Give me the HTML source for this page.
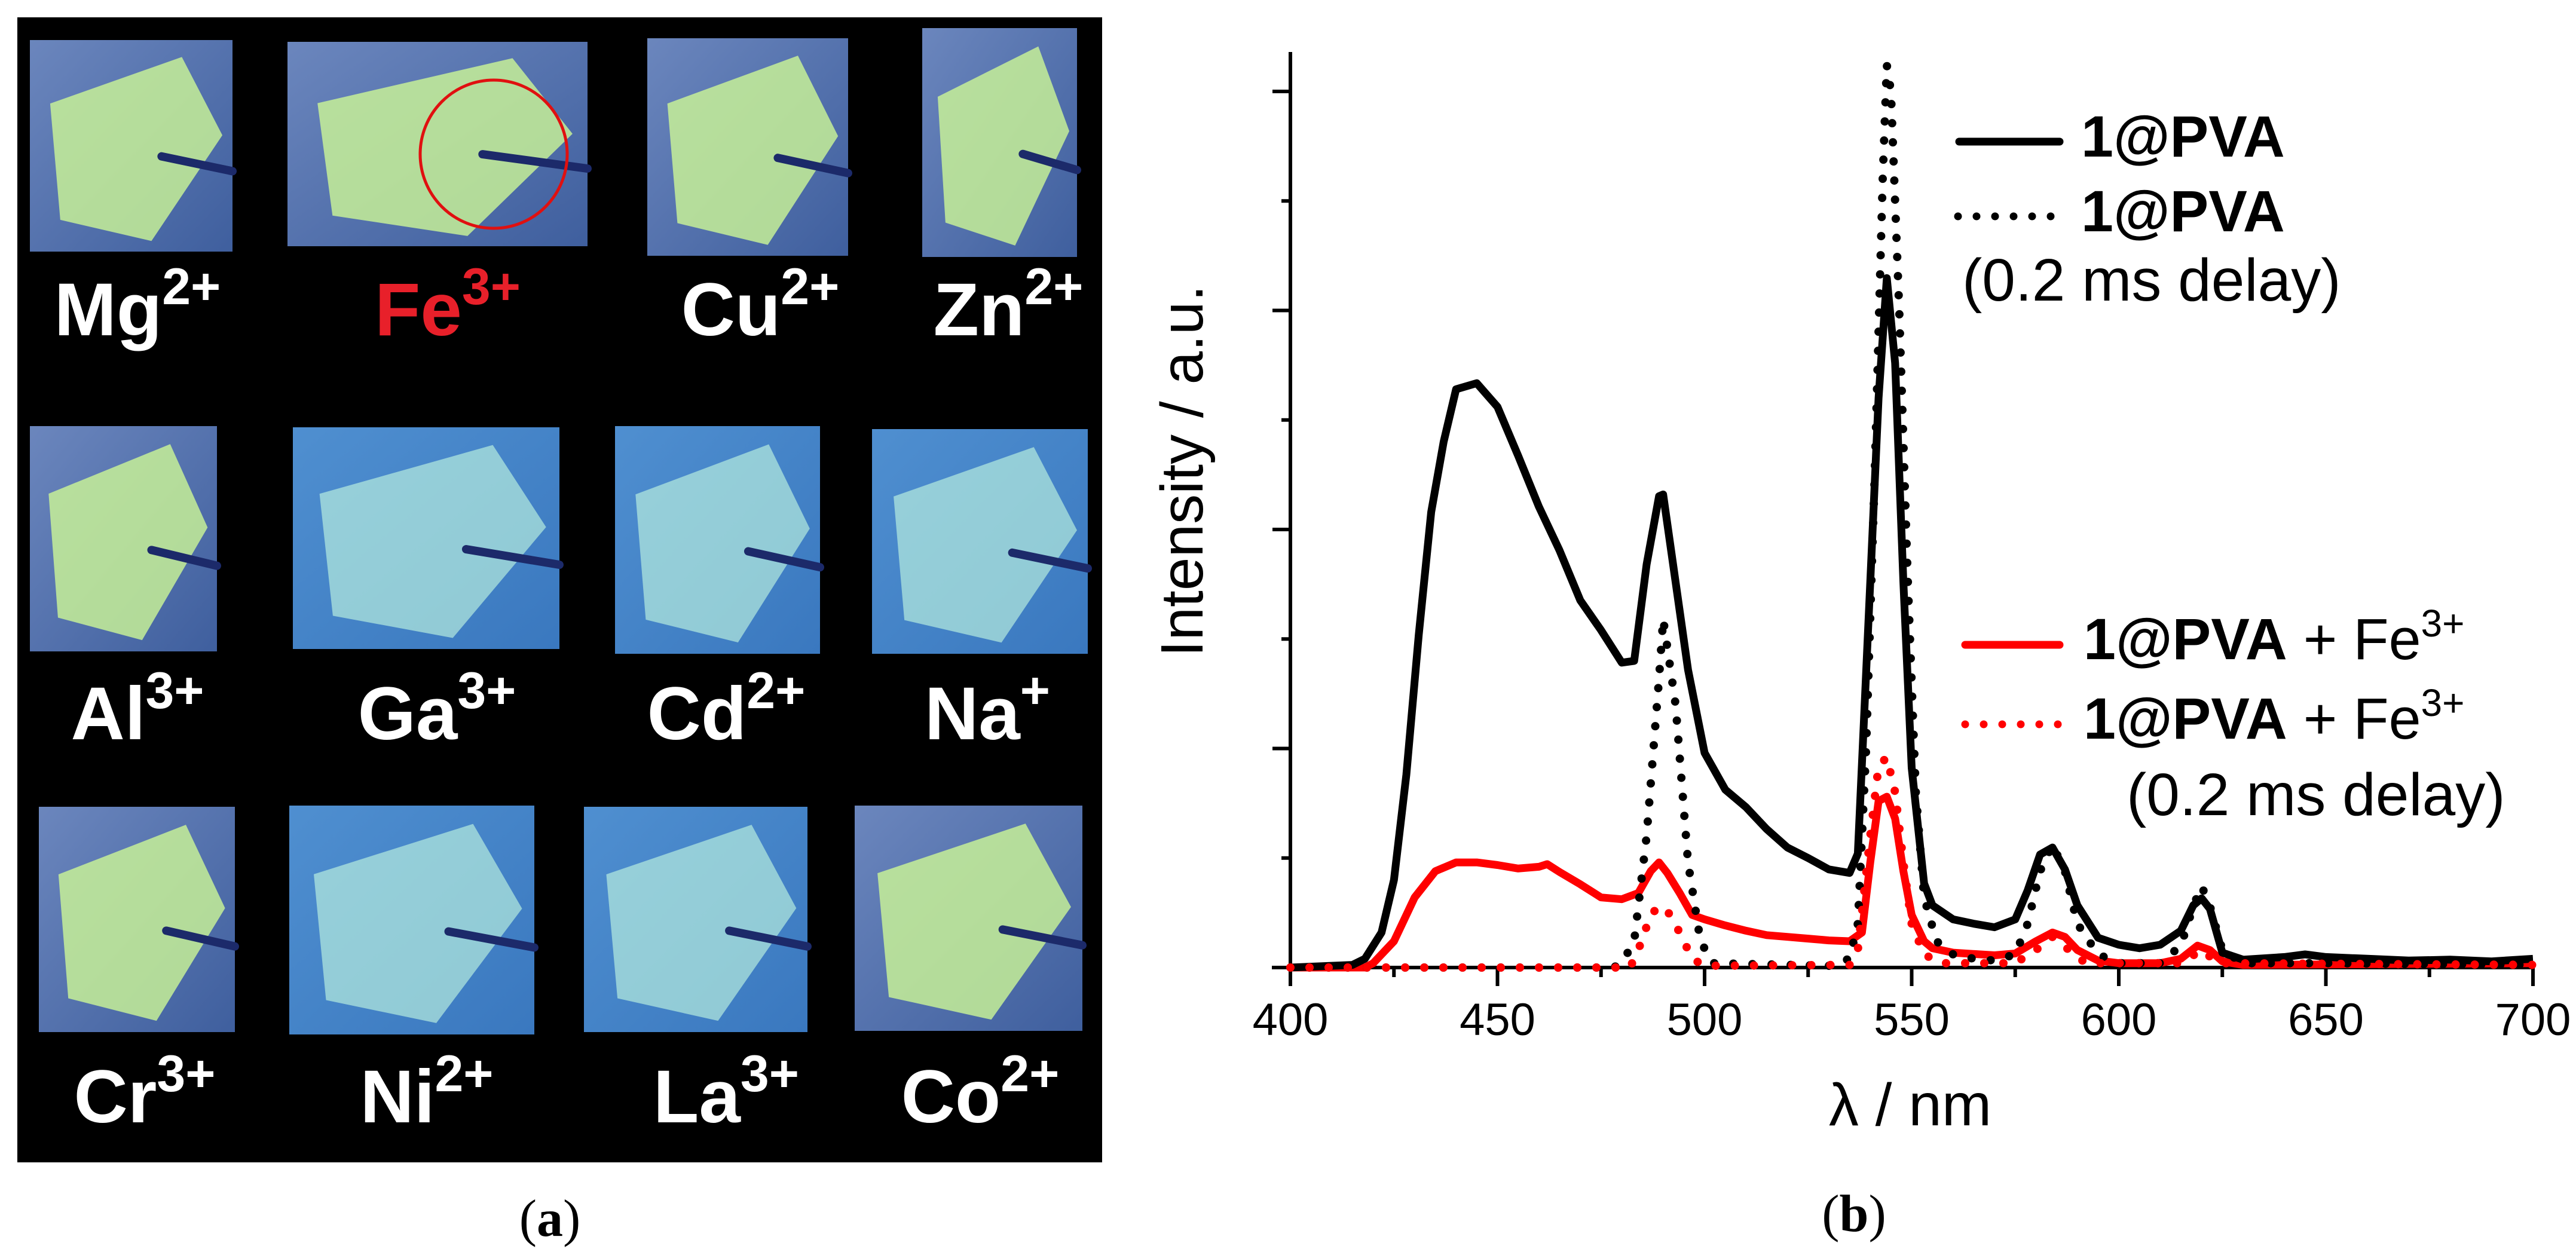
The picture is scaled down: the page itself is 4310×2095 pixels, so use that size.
<!DOCTYPE html>
<html><head><meta charset="utf-8"><style>
html,body{margin:0;padding:0;background:#fff;}
svg{display:block;}
.lbl{font-family:"Liberation Sans",sans-serif;font-weight:bold;font-size:125px;fill:#fff;}
.sup{font-size:86px;}
.tick{font-family:"Liberation Sans",sans-serif;font-size:76px;fill:#000;}
</style></head><body>
<svg id="fig" width="4310" height="2095" viewBox="0 0 4310 2095" xmlns="http://www.w3.org/2000/svg">
<defs>
<linearGradient id="bgA" x1="0" y1="0" x2="1" y2="1"><stop offset="0" stop-color="#6b86bd"/><stop offset="1" stop-color="#3f5f9e"/></linearGradient>
<linearGradient id="bgB" x1="0" y1="0" x2="1" y2="1"><stop offset="0" stop-color="#4f8fd0"/><stop offset="1" stop-color="#3a78bf"/></linearGradient>
</defs>
<g>
<rect x="29" y="29" width="1815" height="1916" fill="#000"/>
<g id="photos"></g>
<ellipse cx="826" cy="258" rx="123" ry="124" fill="none" stroke="#e01010" stroke-width="5"/>
<g id="labels"></g>
<text x="920" y="2068" font-family="'Liberation Serif',serif" font-size="88" text-anchor="middle">(<tspan font-weight="bold">a</tspan>)</text>
</g>
<g>
<g id="axes"></g>
<g id="series"></g>
<text transform="translate(2012,788) rotate(-90)" font-family="'Liberation Sans',sans-serif" font-size="100" text-anchor="middle">Intensity / a.u.</text>
<text x="3196" y="1883" font-family="'Liberation Sans',sans-serif" font-size="100" text-anchor="middle">λ / nm</text>
<text x="3102" y="2060" font-family="'Liberation Serif',serif" font-size="88" text-anchor="middle">(<tspan font-weight="bold">b</tspan>)</text>
<g>
<g>
<line x1="3278" y1="237" x2="3446" y2="237" stroke="#000" stroke-width="13" stroke-linecap="round"/>
<text x="3482" y="262" font-family="'Liberation Sans',sans-serif" font-weight="bold" font-size="97">1@PVA</text></g>
<g>
<line x1="3276" y1="362" x2="3436" y2="362" stroke="#000" stroke-width="13" stroke-linecap="round" stroke-dasharray="0 31"/>
<text x="3482" y="387" font-family="'Liberation Sans',sans-serif" font-weight="bold" font-size="97">1@PVA</text>
<text x="3283" y="503" font-family="'Liberation Sans',sans-serif" font-size="100">(0.2 ms delay)</text></g>
<g>
<line x1="3288" y1="1079" x2="3446" y2="1079" stroke="#f00" stroke-width="13" stroke-linecap="round"/>
<text x="3486" y="1103" font-family="'Liberation Sans',sans-serif" font-size="97"><tspan font-weight="bold">1@PVA</tspan> + Fe<tspan font-size="64" dy="-38">3+</tspan></text></g>
<g>
<line x1="3288" y1="1212" x2="3446" y2="1212" stroke="#f00" stroke-width="13" stroke-linecap="round" stroke-dasharray="0 31"/>
<text x="3486" y="1236" font-family="'Liberation Sans',sans-serif" font-size="97"><tspan font-weight="bold">1@PVA</tspan> + Fe<tspan font-size="64" dy="-38">3+</tspan></text>
<text x="3558" y="1364" font-family="'Liberation Sans',sans-serif" font-size="100">(0.2 ms delay)</text></g>
</g>
</g>
</svg>
<script>
const NS="http://www.w3.org/2000/svg";
// ---- chart data ----
const xTicks=[400,450,500,550,600,650,700];
const wlBlack=[400,415,418,422,425,428,431,434,437,440,445,450,455,460,465,470,475,480,483,486,489,490,493,496,500,505,510,515,520,525,530,535,537,540,542,544,546,548,550,553,555,560,565,570,575,578,581,584,587,590,595,600,605,610,615,618,620,622,625,630,640,645,650,660,670,680,690,700];
const intBlack=[0,0.3,1,4,10,22,38,52,60,66,66.7,64,58.4,52.6,47.6,41.9,38.5,34.8,35,46,53.8,54,44,34,24.5,20.3,18.3,15.8,13.7,12.5,11.2,10.8,13,44,65,78.7,69,44,22.8,9.6,7.1,5.5,5,4.6,5.5,8.8,12.9,13.7,11.2,7.1,3.4,2.6,2.2,2.6,4.2,7.1,7.9,6.7,1.7,0.9,1.2,1.5,1.2,1,0.8,0.9,0.7,1];
const wlBlackDelay=[400,478,480,483,486,489,490,493,496,499,502,530,535,537,539,541,543,544,545,547,549,551,553,556,560,565,570,575,578,581,584,587,590,595,600,610,615,618,620,622,625,630,650,700];
const intBlackDelay=[0,0,0.5,3,15,33,39.8,30,12,3,0.5,0.2,1,5,25,55,90,103,100,75,45,20,8,3,1.5,1,0.8,1.5,5,11,14,11,5,1.5,0.5,0.5,2.5,7,9.3,7,2,0.5,0.5,0.3];
const wlRed=[400,418,420,425,430,435,440,445,450,455,460,462,465,470,475,480,484,487,489,491,494,497,500,505,510,515,520,525,530,535,538,540,542,544,546,548,550,553,555,560,570,575,580,584,587,590,595,600,610,615,619,622,625,630,700];
const intRed=[0,0,0.5,3,8,11,12,12,11.7,11.3,11.5,11.8,10.9,9.5,8,7.8,8.5,11,12,10.8,8.5,6,5.5,4.8,4.2,3.7,3.5,3.3,3.1,3,4,12,19,19.5,17,11,6,3,2.2,1.7,1.4,1.6,3,4,3.5,2,0.8,0.5,0.5,1,2.5,2,0.7,0.3,0.5];
const wlRedDelay=[400,482,484,487,489,491,494,497,500,535,537,540,542,544,546,548,550,553,557,575,580,584,588,592,615,620,624,700];
const intRedDelay=[0,0,2,6,7,6.5,4,1,0.2,0.3,2,15,23,24,20,12,5,1.5,0.5,0.5,2,3.5,2,0.5,0.5,2,0.5,0.3];

const X0=2159,X1=4238,Y0=1619,YTOP=153;
function xs(w){return X0+(w-400)/300*(X1-X0);}
function ys(v){return Y0-v/100*(Y0-YTOP);}

const axes=document.getElementById('axes');
function mk(tag,attrs,parent){const e=document.createElementNS(NS,tag);for(const k in attrs)e.setAttribute(k,attrs[k]);parent.appendChild(e);return e;}
let a=mk('line',{x1:X0,y1:87,x2:X0,y2:Y0+3,stroke:'#000','stroke-width':6},axes);


a=mk('line',{x1:2128,y1:Y0,x2:X1+3,y2:Y0,stroke:'#000','stroke-width':6},axes);


for(let k=0;k<=8;k++){
  const y=Y0-k*(Y0-YTOP)/8;const len=k%2===0?30:15;
  const t=mk('line',{x1:X0-len,y1:y,x2:X0,y2:y,stroke:'#000','stroke-width':6},axes);
  
  
}
xTicks.forEach((w,i)=>{
  const x=xs(w);
  const t=mk('line',{x1:x,y1:Y0,x2:x,y2:Y0+31,stroke:'#000','stroke-width':6},axes);
  
  
  if(i<xTicks.length-1){const m=mk('line',{x1:xs(w+25),y1:Y0,x2:xs(w+25),y2:Y0+16,stroke:'#000','stroke-width':6},axes);
  
  }
  const l=mk('text',{x:x,y:1732,'text-anchor':'middle',class:'tick'},axes);
  l.textContent=w;
  
  
});
const ser=document.getElementById('series');
function path(wl,iv){return wl.map((w,i)=>(i?'L':'M')+xs(w).toFixed(1)+','+ys(iv[i]).toFixed(1)).join(' ');}
let p=mk('path',{d:path(wlRed,intRed),fill:'none',stroke:'#f00','stroke-width':13,'stroke-linejoin':'round'},ser);


p=mk('path',{d:path(wlBlack,intBlack),fill:'none',stroke:'#000','stroke-width':13,'stroke-linejoin':'round'},ser);


p=mk('path',{d:path(wlBlackDelay,intBlackDelay),fill:'none',stroke:'#000','stroke-width':14,'stroke-linecap':'round','stroke-dasharray':'0 32'},ser);


p=mk('path',{d:path(wlRedDelay,intRedDelay),fill:'none',stroke:'#f00','stroke-width':14,'stroke-linecap':'round','stroke-dasharray':'0 32'},ser);



// ---- photo grid ----
const photoIons=['Mg','Fe','Cu','Zn','Al','Ga','Cd','Na','Cr','Ni','La','Co'];
const photoCharges=['2+','3+','2+','2+','3+','3+','2+','+','3+','2+','3+','2+'];
const photoBoxes=[[50,67,339,354],[481,70,502,342],[1083,64,336,364],[1543,47,259,383],[50,713,313,377],[490,715,446,371],[1029,713,343,381],[1459,718,361,376],[65,1350,328,377],[484,1348,410,383],[977,1350,374,377],[1430,1348,381,377]];
const labelPos=[[230,561],[749,561],[1272,561],[1687,561],[230,1237],[731,1237],[1215,1237],[1652,1237],[242,1878],[714,1878],[1215,1878],[1640,1878]];
const ph=document.getElementById('photos'),lb=document.getElementById('labels');
photoBoxes.forEach((b,i)=>{
  const [x,y,w,h]=b;const g=mk('g',{},ph);
  
  
  mk('rect',{x:x,y:y,width:w,height:h,fill:i<4||i==4||i==8||i==11?'url(#bgA)':'url(#bgB)'},g);
  const green=(i<5||i==8||i==11);
  const pts=[[0.1,0.3],[0.75,0.08],[0.95,0.45],[0.6,0.95],[0.15,0.85]].map(q=>(x+q[0]*w)+','+(y+q[1]*h)).join(' ');
  mk('polygon',{points:pts,fill:green?'rgba(205,248,150,0.8)':'rgba(190,245,225,0.65)'},g);
  mk('line',{x1:x+w*0.65,y1:y+h*0.55,x2:x+w,y2:y+h*0.62,stroke:'#1c2a6a','stroke-width':14,'stroke-linecap':'round'},g);
  const t=mk('text',{x:labelPos[i][0],y:labelPos[i][1],'text-anchor':'middle',class:'lbl'},lb);
  if(i==1){t.style.fill='#e8202a';}
  
  
  t.appendChild(document.createTextNode(photoIons[i]));
  const s=document.createElementNS(NS,'tspan');s.setAttribute('class','sup');s.setAttribute('dy','-52');s.textContent=photoCharges[i];t.appendChild(s);
});
</script>
</body></html>
